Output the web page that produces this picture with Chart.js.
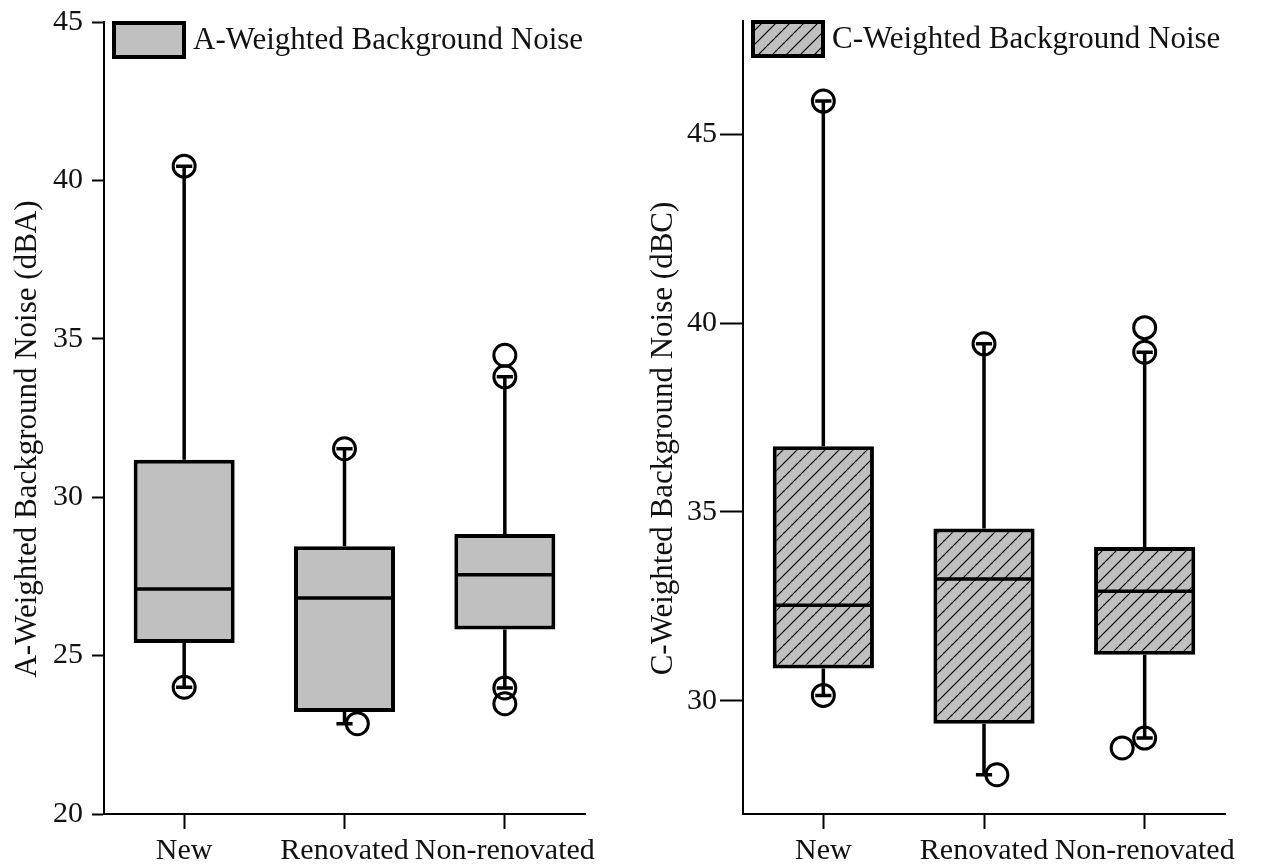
<!DOCTYPE html>
<html>
<head>
<meta charset="utf-8">
<title>Background noise by building type</title>
<script src="https://cdn.jsdelivr.net/npm/chart.js@4.4.1/dist/chart.umd.min.js"></script>
<style>
  body { margin: 0; background: #fff; }
  .panel { position: absolute; top: 0; width: 631px; height: 864px; }
</style>
</head>
<body>
<div class="panel" style="left:0"><canvas id="chartA" width="631" height="864"></canvas></div>
<div class="panel" style="left:631px"><canvas id="chartC" width="631" height="864"></canvas></div>
<script>
const categories = ['New', 'Renovated', 'Non-renovated'];

// A-weighted background noise, dBA
const aLow = [24.0, 22.85, 23.98];
const aQ1 = [25.40, 23.22, 25.82];
const aMedian = [27.10, 26.82, 27.55];
const aQ3 = [31.18, 28.45, 28.84];
const aHigh = [40.45, 31.53, 33.80];
const aPointX = [0, 0, 1, 1.08, 2, 2, 2, 2];
const aPointY = [40.45, 24.0, 31.53, 22.85, 34.48, 33.80, 23.98, 23.48];
const aTicks = [20, 25, 30, 35, 40, 45];

// C-weighted background noise, dBC
const cLow = [30.14, 28.04, 29.01];
const cQ1 = [30.85, 29.39, 31.22];
const cMedian = [32.53, 33.22, 32.90];
const cQ3 = [36.74, 34.56, 34.07];
const cHigh = [45.88, 39.45, 39.23];
const cPointX = [0, 0, 1, 1.08, 2, 2, 2, 1.86];
const cPointY = [45.88, 30.14, 39.45, 28.04, 39.88, 39.23, 29.01, 28.75];
const cTicks = [30, 35, 40, 45];

const FONT = 'Liberation Serif, Times New Roman, serif';
const TEXT = '#111';
const GREY = '#c0c0c0';

function hatchPattern() {
    const tile = document.createElement('canvas');
    tile.width = 14; tile.height = 14;
    const t = tile.getContext('2d');
    t.fillStyle = GREY;
    t.fillRect(0, 0, 14, 14);
    t.strokeStyle = '#000';
    t.lineWidth = 1.2;
    t.beginPath();
    t.moveTo(0, 14); t.lineTo(14, 0);
    t.moveTo(-7, 7); t.lineTo(7, -7);
    t.moveTo(7, 21); t.lineTo(21, 7);
    t.stroke();
    return t.createPattern(tile, 'repeat');
}

// whiskers, caps and median lines on top of the floating bars
function whiskerPlugin(low, q1, median, q3, high) {
    return {
        id: 'whiskers',
        afterDatasetsDraw(chart) {
            const { ctx, scales: { x, y } } = chart;
            const bars = chart.getDatasetMeta(0).data;
            ctx.save();
            ctx.strokeStyle = '#000';
            ctx.lineWidth = 3.5;
            low.forEach((lo, i) => {
                const cx = x.getPixelForValue(i);
                const half = bars[i].width / 2;
                const cap = bars[i].width * 0.08;
                const yLo = y.getPixelForValue(lo);
                const yHi = y.getPixelForValue(high[i]);
                const yMed = y.getPixelForValue(median[i]);
                ctx.beginPath();
                ctx.moveTo(cx, y.getPixelForValue(q3[i])); ctx.lineTo(cx, yHi);
                ctx.moveTo(cx, y.getPixelForValue(q1[i])); ctx.lineTo(cx, yLo);
                ctx.moveTo(cx - cap, yHi); ctx.lineTo(cx + cap, yHi);
                ctx.moveTo(cx - cap, yLo); ctx.lineTo(cx + cap, yLo);
                ctx.moveTo(cx - half + 2, yMed); ctx.lineTo(cx + half - 2, yMed);
                ctx.stroke();
            });
            ctx.restore();
        }
    };
}

// single legend entry in the top left corner of the plot area
function legendPlugin(label) {
    return {
        id: 'cornerLegend',
        afterDraw(chart) {
            const { ctx, chartArea } = chart;
            const ds = chart.data.datasets[0];
            const bx = chartArea.left + 10, by = chartArea.top + 1, bw = 70, bh = 34;
            ctx.save();
            ctx.fillStyle = ds.backgroundColor;
            ctx.fillRect(bx, by, bw, bh);
            ctx.lineWidth = 4;
            ctx.strokeStyle = '#000';
            ctx.strokeRect(bx, by, bw, bh);
            ctx.fillStyle = TEXT;
            ctx.font = `31px ${FONT}`;
            ctx.textBaseline = 'middle';
            ctx.fillText(label, bx + bw + 9, by + bh / 2 + 1);
            ctx.restore();
        }
    };
}

// rotated y-axis title, sitting a little below the middle of the plot
function axisTitlePlugin(text) {
    return {
        id: 'axisTitle',
        afterDraw(chart) {
            const { ctx, chartArea, scales: { y } } = chart;
            ctx.save();
            ctx.translate(y.left + 22, (chartArea.top + chartArea.bottom) / 2 + 21);
            ctx.rotate(-Math.PI / 2);
            ctx.font = `31px ${FONT}`;
            ctx.fillStyle = TEXT;
            ctx.textAlign = 'center';
            ctx.textBaseline = 'middle';
            ctx.fillText(text, 0, 0);
            ctx.restore();
        }
    };
}

function buildChart(id, cfg) {
    const boxes = categories.map((c, i) => ({ x: i, y: [cfg.q1[i], cfg.q3[i]] }));
    const points = cfg.px.map((v, i) => ({ x: v, y: cfg.py[i] }));
    const tickFont = { family: FONT, size: 30 };
    return new Chart(document.getElementById(id), {
        type: 'bar',
        data: {
            datasets: [{
                label: cfg.legend,
                data: boxes,
                backgroundColor: cfg.fill,
                borderColor: '#000',
                borderWidth: 4,
                borderSkipped: false,
                barPercentage: 0.63,
                categoryPercentage: 1,
                order: 2
            }, {
                type: 'scatter',
                data: points,
                pointStyle: 'circle',
                pointRadius: 11,
                pointBorderWidth: 3,
                pointBackgroundColor: 'rgba(0,0,0,0)',
                pointBorderColor: '#000',
                order: 1
            }]
        },
        options: {
            responsive: false,
            animation: false,
            events: [],
            layout: { padding: cfg.padding },
            plugins: { legend: { display: false }, tooltip: { enabled: false } },
            scales: {
                x: {
                    type: 'linear',
                    min: -0.5,
                    max: 2.5,
                    offset: false,
                    bounds: 'data',
                    grace: 0,
                    afterBuildTicks: axis => { axis.ticks = categories.map((c, i) => ({ value: i })); },
                    afterFit: axis => { axis.height = 50; },
                    ticks: { callback: v => categories[v], font: tickFont, color: TEXT, padding: 4, maxRotation: 0, autoSkip: false },
                    grid: { offset: false, drawOnChartArea: false, drawTicks: true, tickLength: 15, tickWidth: 2, tickColor: '#000' },
                    border: { display: true, color: '#000', width: 2 }
                },
                y: {
                    min: cfg.min,
                    max: cfg.max,
                    afterBuildTicks: axis => { axis.ticks = cfg.ticks.map(v => ({ value: v })); },
                    afterFit: axis => {
                        axis.width = cfg.yWidth;
                        axis.paddingTop = 0;
                        axis.paddingBottom = 0;
                    },
                    ticks: { font: tickFont, color: TEXT, padding: cfg.tickPad },
                    grid: { drawOnChartArea: false, drawTicks: true, tickLength: cfg.tickLen, tickWidth: 2, tickColor: '#000' },
                    border: { display: true, color: '#000', width: 2 }
                }
            }
        },
        plugins: [
            whiskerPlugin(cfg.low, cfg.q1, cfg.median, cfg.q3, cfg.high),
            legendPlugin(cfg.legend),
            axisTitlePlugin(cfg.title)
        ]
    });
}

buildChart('chartA', {
    low: aLow, q1: aQ1, median: aMedian, q3: aQ3, high: aHigh,
    px: aPointX, py: aPointY, ticks: aTicks, min: 20, max: 45,
    fill: GREY,
    legend: 'A-Weighted Background Noise',
    title: 'A-Weighted Background Noise (dBA)',
    padding: { left: 6, right: 46, top: 22, bottom: 0 },
    yWidth: 98, tickLen: 12, tickPad: 9
});

buildChart('chartC', {
    low: cLow, q1: cQ1, median: cMedian, q3: cQ3, high: cHigh,
    px: cPointX, py: cPointY, ticks: cTicks, min: 27, max: 48,
    fill: hatchPattern(),
    legend: 'C-Weighted Background Noise',
    title: 'C-Weighted Background Noise (dBC)',
    padding: { left: 11, right: 37, top: 21, bottom: 0 },
    yWidth: 101, tickLen: 23, tickPad: 3
});
</script>
</body>
</html>
